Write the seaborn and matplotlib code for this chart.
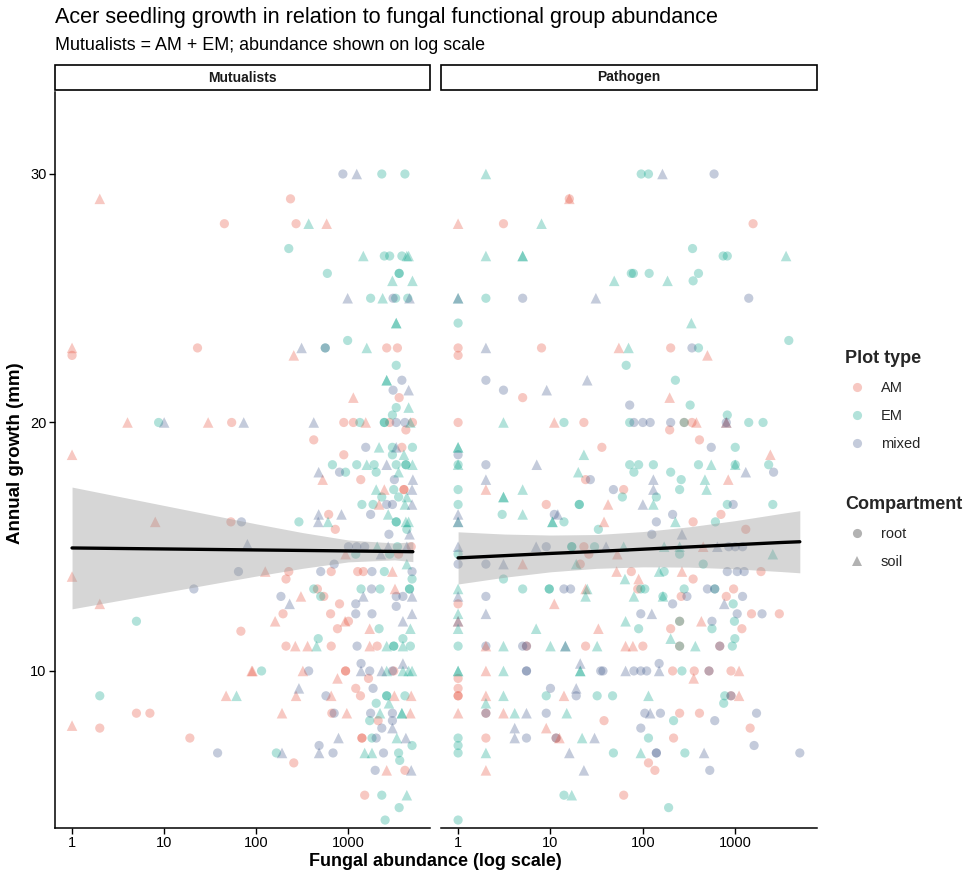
import numpy as np
import pandas as pd
import matplotlib
matplotlib.use('Agg')
import matplotlib.pyplot as plt
import seaborn as sns
from matplotlib.lines import Line2D
from matplotlib.patches import Rectangle

# ---- Mutualists panel (abundance, growth) by plot type / compartment ----
mut_am_root_x = [45, 1, 23, 54, 53, 68, 5, 7, 2, 19, 235, 270, 2600, 3400, 3550, 890, 1130, 2800, 4950, 4200,
                 420, 3800, 890, 1360, 4000, 4000, 610, 720, 4800, 3500, 225, 650, 1260, 1450, 210, 460, 540, 800, 195, 640,
                 1000, 760, 210, 650, 2050, 930, 930, 3100, 1650, 1200, 1350, 660, 2100, 1400, 1400, 255, 4100, 1500]
mut_am_root_y = [28, 22.7, 23, 20, 16, 11.6, 8.3, 8.3, 7.7, 7.3, 29, 28, 23, 23, 21, 20, 20, 20, 20, 19.7,
                 19.3, 19, 18.7, 17.7, 17.3, 17.3, 16.3, 15.7, 15, 14.7, 14, 14, 14, 14, 13.7, 13.3, 13, 12.7, 12.3, 12.3,
                 12, 11.7, 11, 11, 11, 10, 10, 10, 9.7, 9.3, 9, 8.3, 8, 7.3, 7.3, 6.3, 6, 5]
mut_am_soil_x = [2, 1, 4, 30, 1, 8, 1, 2, 89, 47, 1, 580, 255, 1130, 1540, 525, 2450, 2150, 930, 125,
                 3000, 3200, 305, 160, 920, 1700, 265, 360, 1700, 91, 320, 760, 270, 650, 3150, 4800, 190, 960, 4700, 2600]
mut_am_soil_y = [29, 23, 20, 20, 18.7, 16, 13.8, 12.7, 10, 9, 7.8, 28, 22.7, 21, 20, 17.7, 17.3, 16.7, 14.7, 14,
                 14, 13.3, 13, 12, 12, 11.7, 11, 11, 11, 10, 10, 9.7, 9, 9, 9, 9, 8.3, 8.3, 8.3, 6]
mut_em_root_x = [8.7, 5, 2, 2300, 4100, 225, 2450, 2800, 3800, 590, 3550, 3550, 1740, 3250, 4400, 980, 560, 3300, 3300, 3000,
                 1330, 2450, 2450, 3000, 4950, 3000, 670, 1230, 1900, 3300, 4200, 4200, 930, 2000, 3100, 2300, 3500, 1400, 1850, 290,
                 3300, 3300, 4300, 3400, 1200, 2800, 2450, 4900, 420, 1370, 2200, 4600, 4600, 500, 2150, 470, 3100, 3100, 4700, 3900,
                 114, 2600, 2600, 4100, 2000, 1700, 1800, 4900, 165, 3500, 3600, 2300, 3550, 2500]
mut_em_root_y = [20, 12, 9, 30, 30, 27, 26.7, 26.7, 26.7, 26, 26, 26, 25, 25, 25, 23.3, 23, 22.3, 20.6, 20.3,
                 20, 20, 20, 19, 19, 18.7, 18.3, 18.3, 18.3, 18.3, 18.3, 18.3, 18, 18, 17.3, 17, 17, 16.7, 16.7, 16,
                 16, 16, 15.7, 15, 14.7, 14.7, 14, 13.7, 13.3, 13.3, 13.3, 13.3, 13.3, 13, 11.7, 11.3, 11, 11, 11, 11.3,
                 10, 9, 9, 9, 8.7, 8, 7.3, 7, 6.7, 6.7, 6.4, 5, 4.5, 4]
mut_em_soil_x = [61, 370, 1450, 4300, 4500, 3000, 4950, 2350, 3300, 3300, 1580, 2600, 2600, 4500, 4700, 2150, 4000, 1580, 4950, 3500,
                 2000, 4300, 4100, 2700, 600, 4200, 4500, 2050, 450, 2600, 3900, 2750, 2200, 3800, 3800, 3350, 1500, 1800, 4300, 4700,
                 2600, 3900, 4900, 4500, 4300]
mut_em_soil_y = [9, 28, 26.7, 26.7, 26.7, 25.7, 25.7, 25, 24, 24, 23, 21.7, 21.7, 20.6, 20, 19, 18.7, 18.3, 18.3, 18,
                 17.3, 17, 16.7, 16.3, 16, 16, 16, 15, 11, 11, 11, 8.7, 8.3, 8.3, 8.3, 7.3, 6.7, 6.7, 5, 11.7,
                 10, 10, 10, 10, 14.3]
mut_mx_root_x = [69, 64, 21, 38, 870, 3050, 3800, 3050, 3300, 4100, 1540, 800, 3150, 2600, 3000, 1740, 2750, 1000, 1230, 1500,
                 700, 500, 1800, 4900, 1780, 185, 3300, 3900, 1200, 1200, 1800, 3300, 1240, 1370, 370, 1700, 3000, 1850, 570, 700,
                 1740, 3000, 3000, 2300, 2000, 480, 680, 2400, 1950, 560]
mut_mx_root_y = [16, 14, 13.3, 6.7, 30, 25, 21.7, 21.3, 20, 20, 19, 18, 17.7, 16.7, 16.7, 16.3, 15.5, 15, 15, 15,
                 14.3, 14, 14, 14, 13.3, 13, 13, 13, 12.7, 12.3, 12.3, 12.6, 11, 10.3, 10, 10, 10, 9.3, 9, 8.3,
                 8.3, 8.3, 8, 7.7, 7.3, 7, 6.7, 6.7, 6, 23]
mut_mx_soil_x = [10, 73, 80, 1230, 980, 4600, 310, 4500, 420, 3300, 2600, 475, 5000, 4900, 4900, 475, 840, 470, 4600, 2700,
                 4300, 2250, 1450, 4900, 230, 3900, 4900, 3900, 1370, 2300, 290, 3000, 780, 4200, 190, 480, 4800]
mut_mx_soil_y = [20, 20, 15.1, 30, 25, 25, 23, 21.3, 20, 19, 18.3, 18, 17.7, 17.3, 16.7, 16.3, 16.3, 16, 15.5, 15,
                 15, 14.7, 13, 13, 12.7, 12, 12.3, 10.3, 10, 10, 9.3, 7.7, 7.3, 7.3, 6.7, 6.7, 6]

# ---- Pathogen panel ----
pat_am_root_x = [16, 3.1, 1, 8, 1, 5, 1, 23, 36, 24, 62, 9, 23, 26, 21, 75, 1, 24, 5.5, 1,
                 1, 1, 1, 2, 38, 2, 11.5, 62, 1560, 200, 280, 340, 195, 410, 700, 350, 1300, 1900, 350, 88,
                 960, 260, 800, 1500, 3000, 250, 1180, 200, 100, 250, 680, 210, 360, 520, 900, 900, 250, 410, 1450, 215,
                 115, 135]
pat_am_root_y = [29, 28, 23, 23, 22.7, 21, 20, 20, 19, 17.7, 17.3, 16.7, 15, 14.7, 14.3, 14, 12.7, 11, 11, 9.7,
                 9.3, 9, 9, 8.3, 8, 7.3, 7.3, 5, 28, 23, 20, 20, 19.7, 19.3, 16.3, 16, 15.7, 14, 13.7, 13.3,
                 13.3, 13, 13, 12.3, 12.3, 12, 11.7, 11.7, 11, 11, 11, 10, 10, 10, 10, 9, 8.3, 8.3, 7.7, 7.3,
                 6.3, 6]
pat_am_soil_x = [16, 1, 55, 11, 2, 42, 38, 53, 5, 52, 24, 11, 1, 33, 2, 65, 2, 14, 2, 1,
                 3.1, 9, 12.5, 2, 500, 195, 380, 800, 2400, 840, 450, 265, 90, 430, 78, 1100, 355, 1100]
pat_am_soil_y = [29, 28, 23, 20, 17.3, 16.7, 16, 14.7, 14.3, 14, 13.3, 12.7, 12, 11.7, 11, 11, 10, 9, 9, 8.3,
                 8.3, 7.7, 7.3, 6, 22.7, 21, 20, 20, 18.7, 17.7, 15, 14, 13.7, 12, 11, 10, 9.7, 9]
pat_em_root_x = [2, 1, 14, 72, 66, 75, 1, 1, 1, 60, 20.5, 20.5, 3, 14, 33, 17, 17, 30, 1, 3.1,
                 5, 9.7, 9.7, 1, 9, 32, 47, 1, 1, 1, 48, 14, 1, 72, 96, 115, 345, 740, 820, 79,
                 117, 400, 350, 3800, 400, 225, 325, 820, 280, 1400, 2000, 1000, 90, 130, 400, 1000, 2300, 80, 200, 260,
                 250, 140, 820, 2550, 610, 250, 450, 170, 95, 105, 280, 600, 165, 950, 980, 90, 560, 990, 250, 930,
                 265, 770, 750, 215, 115, 285, 190, 250]
pat_em_root_y = [25, 24, 20, 18.3, 22.3, 26, 18.3, 17.3, 16.7, 17, 16.7, 16.7, 16.3, 16, 15.7, 15, 15, 15, 14.7, 13.7,
                 13.3, 13.3, 13.3, 11, 9, 9, 9, 7.3, 7, 6.7, 6.7, 5, 4, 20, 30, 30, 27, 26.7, 26.7, 26,
                 26, 26, 25.7, 23.3, 23, 21.7, 20.7, 20.3, 20, 20, 20, 19, 18.3, 18.3, 18.3, 18.3, 18.3, 18, 18, 17.7,
                 17.3, 17, 16.7, 16.7, 16, 14.7, 14.3, 14, 13.3, 13.3, 13.3, 13.3, 13, 12.7, 12, 11.7, 11.7, 11.3, 11, 11,
                 10, 9, 8.7, 8, 7.3, 6.7, 4.5, 12]
pat_em_soil_x = [2, 8, 2, 5, 5, 49, 1, 70, 3.1, 1, 1, 23, 1, 20, 5, 3.1, 3.1, 5, 10.5, 10.5,
                 62, 19, 64, 1, 25, 24, 1, 65, 1, 7, 3.1, 10, 14.5, 32, 3.1, 21, 21, 1, 1, 3.1,
                 2, 4.1, 15, 22, 2, 17, 1, 3550, 185, 335, 470, 490, 130, 225, 170, 250, 2550, 150, 80, 165,
                 200, 370, 115, 95, 550, 1000]
pat_em_soil_y = [30, 28, 26.7, 26.7, 26.7, 25.7, 25, 23, 20, 19, 19, 18.7, 18.3, 18, 17.3, 17, 17, 16.3, 16, 16,
                 15, 14.3, 13.7, 13.3, 13.3, 13, 12.3, 12, 11.7, 11.7, 11, 11, 11, 11, 10, 10, 10, 10, 10, 9,
                 8.7, 8.3, 8.3, 7.3, 6.7, 5, 16, 26.7, 25.7, 24, 17.7, 17.3, 16.7, 16, 15, 15, 14.7, 14, 13, 13,
                 11.3, 11, 9, 6.7, 18.3, 18.3]
pat_mx_root_x = [5, 2, 3.1, 72, 1, 2, 27, 48, 11, 9, 1, 2, 14, 16.5, 2, 2, 5, 5.5, 5.5, 5.5,
                 35, 37, 10, 19, 2, 9, 5.5, 11.5, 590, 1400, 340, 80, 100, 120, 200, 800, 550, 2600, 210, 950,
                 140, 125, 850, 1000, 1200, 820, 1050, 1250, 500, 600, 300, 1200, 210, 95, 1050, 1950, 560, 680, 150, 80,
                 95, 110, 520, 900, 105, 155, 1700, 600, 95, 1600, 140, 140, 5000, 530]
pat_mx_root_y = [25, 21.7, 21.3, 20.7, 18.7, 18.3, 17.7, 17.3, 16.3, 15, 14.3, 14.3, 13.3, 13.3, 13, 11, 11, 11, 10, 10,
                 10, 10, 9.3, 9, 8.3, 8.3, 7.3, 7.3, 30, 25, 23, 20, 20, 20, 20, 20, 19, 18, 16.3, 16.7,
                 16, 15.5, 15, 15, 15, 14, 14, 14, 13.3, 13.3, 13, 13, 12.7, 12.3, 12.3, 12.3, 12, 11, 10.3, 10,
                 10, 10, 10, 9, 8.3, 8.3, 8.3, 8, 7.7, 7, 6.7, 6.7, 6.7, 6]
pat_mx_soil_x = [2, 31, 1, 25, 9.1, 7.1, 2, 1, 1, 12, 1, 7, 40, 3.1, 1, 2, 1, 14.5, 21, 65,
                 19, 5.5, 4.1, 4.1, 30, 16, 23, 163, 130, 100, 265, 640, 1300, 130, 760, 125, 150, 120, 460, 800]
pat_mx_soil_y = [23, 25, 25, 21.7, 21.3, 18.3, 17.7, 16.3, 16, 16.3, 15, 15, 15, 14.3, 13, 12.3, 12, 11, 10.3, 10,
                 9.3, 8.3, 7.7, 7.3, 7.3, 6.7, 6, 30, 17.3, 16.7, 15.5, 15, 18, 17.7, 12.7, 12.3, 10, 8.3, 6.7, 20]

# linear fit (growth ~ log10 abundance) with 95% band
fit_abund = [1, 3.16, 10, 31.6, 100, 316, 1000, 3160, 5000]
mut_fit = [14.95, 14.93, 14.91, 14.89, 14.87, 14.85, 14.83, 14.81, 14.80]
mut_lo = [12.50, 12.83, 13.16, 13.49, 13.82, 14.13, 14.39, 14.47, 14.40]
mut_hi = [17.40, 17.03, 16.66, 16.29, 15.92, 15.57, 15.27, 15.15, 15.20]
pat_fit = [14.55, 14.64, 14.73, 14.81, 14.90, 14.99, 15.08, 15.17, 15.20]
pat_lo = [13.50, 13.77, 13.99, 14.13, 14.19, 14.18, 14.11, 14.00, 13.95]
pat_hi = [15.60, 15.51, 15.47, 15.49, 15.61, 15.80, 16.05, 16.34, 16.45]

plot_types = ['AM', 'EM', 'mixed']
palette = {'AM': '#E64B35', 'EM': '#00A087', 'mixed': '#3C5488'}
alpha = 0.3


def panel_frame(groups):
    parts = []
    for (ptype, comp), (xs, ys) in groups.items():
        parts.append(pd.DataFrame({'abund': xs, 'growth': ys, 'ptype': ptype, 'comp': comp}))
    return pd.concat(parts, ignore_index=True)


mut_df = panel_frame({
    ('AM', 'root'): (mut_am_root_x, mut_am_root_y), ('AM', 'soil'): (mut_am_soil_x, mut_am_soil_y),
    ('EM', 'root'): (mut_em_root_x, mut_em_root_y), ('EM', 'soil'): (mut_em_soil_x, mut_em_soil_y),
    ('mixed', 'root'): (mut_mx_root_x, mut_mx_root_y), ('mixed', 'soil'): (mut_mx_soil_x, mut_mx_soil_y),
})
pat_df = panel_frame({
    ('AM', 'root'): (pat_am_root_x, pat_am_root_y), ('AM', 'soil'): (pat_am_soil_x, pat_am_soil_y),
    ('EM', 'root'): (pat_em_root_x, pat_em_root_y), ('EM', 'soil'): (pat_em_soil_x, pat_em_soil_y),
    ('mixed', 'root'): (pat_mx_root_x, pat_mx_root_y), ('mixed', 'soil'): (pat_mx_soil_x, pat_mx_soil_y),
})

sns.set_theme(style='white')
plt.rcParams['font.family'] = ['Liberation Sans', 'DejaVu Sans']

W, H = 980, 881
fig = plt.figure(figsize=(W / 100, H / 100), dpi=100)
fig.patch.set_facecolor('white')

top_px, bot_px = 92, 828
panels = [(55, 430, 'Mutualists', mut_df, mut_fit, mut_lo, mut_hi),
          (441, 817, 'Pathogen', pat_df, pat_fit, pat_lo, pat_hi)]
axes = []
for i, (x0, x1, name, df, fit, lo, hi) in enumerate(panels):
    ax = fig.add_axes([x0 / W, 1 - bot_px / H, (x1 - x0) / W, (bot_px - top_px) / H])
    axes.append(ax)
    sns.scatterplot(data=df[df.comp == 'root'], x='abund', y='growth', hue='ptype', hue_order=plot_types,
                    palette=palette, marker='o', s=44, alpha=alpha, linewidth=0, legend=False, ax=ax, zorder=2)
    sns.scatterplot(data=df[df.comp == 'soil'], x='abund', y='growth', hue='ptype', hue_order=plot_types,
                    palette=palette, marker='^', s=58, alpha=alpha, linewidth=0, legend=False, ax=ax, zorder=2)
    ax.fill_between(fit_abund, lo, hi, color='#999999', alpha=0.4, linewidth=0, zorder=3)
    ax.plot(fit_abund, fit, color='black', linewidth=2.4, zorder=4)

    ax.set_xscale('log')
    ax.set_xlim(10 ** -0.185, 10 ** 3.885)
    ax.set_ylim(3.68, 33.3)
    ax.set_xticks([1, 10, 100, 1000])
    ax.set_xticklabels(['1', '10', '100', '1000'])
    ax.minorticks_off()
    ax.set_xlabel('')
    ax.set_ylabel('')
    ax.set_facecolor('white')
    for side in ['top', 'right']:
        ax.spines[side].set_visible(False)
    ax.spines['bottom'].set_color('black')
    ax.spines['bottom'].set_linewidth(1.1)
    ax.tick_params(axis='x', which='major', direction='out', length=4, width=1, color='black',
                   labelsize=10.5, labelcolor='black', pad=2, bottom=True)
    if i == 0:
        ax.spines['left'].set_color('black')
        ax.spines['left'].set_linewidth(1.1)
        ax.set_yticks([10, 20, 30])
        ax.tick_params(axis='y', which='major', direction='out', length=4, width=1, color='black',
                       labelsize=10.5, labelcolor='black', pad=2, left=True)
    else:
        ax.spines['left'].set_visible(False)
        ax.set_yticks([10, 20, 30])
        ax.tick_params(axis='y', left=False, labelleft=False)

    # facet strip
    strip = Rectangle((x0 / W, 1 - 90 / H), (x1 - x0) / W, 25 / H, transform=fig.transFigure,
                      facecolor='white', edgecolor='black', linewidth=1.2)
    fig.patches.append(strip)
    fig.text((x0 + x1) / 2 / W, 1 - 77.5 / H, name, ha='center', va='center',
             fontsize=10, fontweight='bold', color='#1a1a1a')

fig.text(55 / W, 1 - 18 / H, 'Acer seedling growth in relation to fungal functional group abundance',
         ha='left', va='center', fontsize=15.6, color='black')
fig.text(55 / W, 1 - 46 / H, 'Mutualists = AM + EM; abundance shown on log scale',
         ha='left', va='center', fontsize=12.9, color='black')
fig.text(435 / W, 1 - 861 / H, 'Fungal abundance (log scale)', ha='center', va='center',
         fontsize=13, fontweight='bold', color='black')
fig.text(16 / W, 1 - 453 / H, 'Annual growth (mm)', ha='center', va='center', rotation=90,
         fontsize=13.5, fontweight='bold', color='black')

# legends
type_handles = [Line2D([], [], marker='o', linestyle='', markersize=6.6, markeredgewidth=0,
                       color=palette[t], alpha=alpha) for t in plot_types]
comp_handles = [Line2D([], [], marker='o', linestyle='', markersize=6.6, markeredgewidth=0,
                       color='black', alpha=alpha),
                Line2D([], [], marker='^', linestyle='', markersize=7.6, markeredgewidth=0,
                       color='black', alpha=alpha)]
leg1 = fig.legend(type_handles, plot_types, title='Plot type', loc='upper left',
                  bbox_to_anchor=(835 / W, 1 - 340 / H), frameon=False, fontsize=10.5,
                  title_fontproperties={'weight': 'bold', 'size': 13}, alignment='left',
                  labelspacing=0.95, handletextpad=0.85, handlelength=1.6, borderpad=0.2)
leg2 = fig.legend(comp_handles, ['root', 'soil'], title='Compartment', loc='upper left',
                  bbox_to_anchor=(835 / W, 1 - 486 / H), frameon=False, fontsize=10.5,
                  title_fontproperties={'weight': 'bold', 'size': 13}, alignment='left',
                  labelspacing=0.95, handletextpad=0.85, handlelength=1.6, borderpad=0.2)

fig.savefig('out.png', dpi=100, facecolor='white')
